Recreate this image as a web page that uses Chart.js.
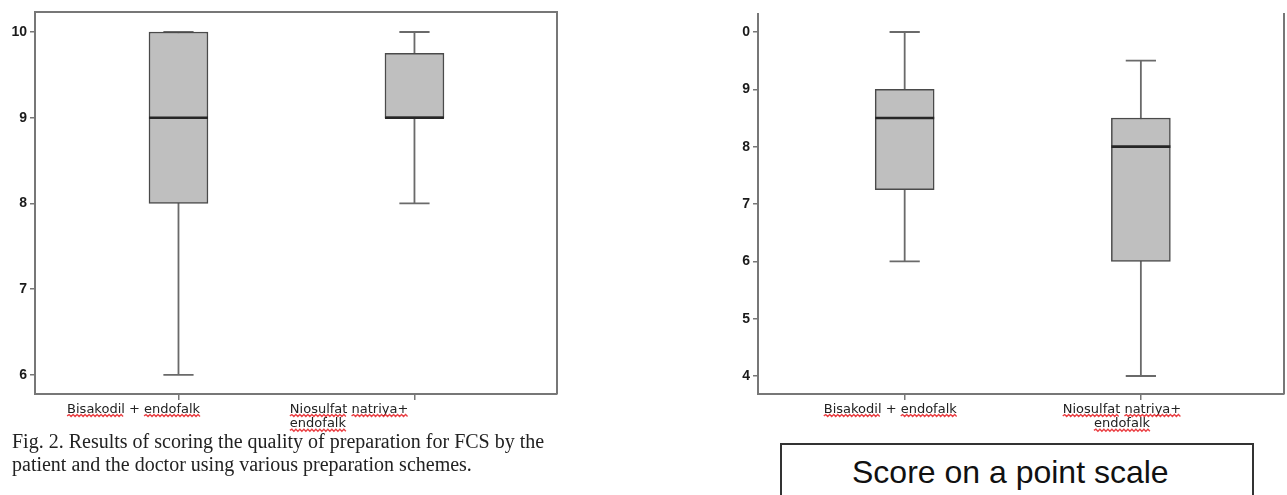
<!DOCTYPE html>
<html>
<head>
<meta charset="utf-8">
<script src="https://cdn.jsdelivr.net/npm/chart.js@4.4.1/dist/chart.umd.min.js"></script>
<style>
  html, body { margin: 0; padding: 0; background: #fff; }
  body { width: 1287px; height: 495px; position: relative; overflow: hidden; }
  canvas { position: absolute; top: 0; }
  #patient-chart { left: 0; }
  #doctor-chart { left: 700px; }
  #caption {
    position: absolute; left: 12px; top: 430px;
    font: 20px/23px "Liberation Serif", "Times New Roman", serif;
    color: #222; white-space: nowrap;
  }
  #scale-box {
    position: absolute; left: 780px; top: 443px; width: 474px; height: 90px;
    box-sizing: border-box; border: 2px solid #333;
    padding: 7px 0 0 70px;
    font: 32px/40px "Liberation Sans", Arial, sans-serif; color: #111; white-space: nowrap;
  }
</style>
</head>
<body>
<canvas id="patient-chart" width="560" height="440"></canvas>
<canvas id="doctor-chart" width="587" height="440"></canvas>
<div id="caption">Fig. 2. Results of scoring the quality of preparation for FCS by the<br>patient and the doctor using various preparation schemes.</div>
<div id="scale-box">Score on a point scale</div>
<script>
/*globals Chart*/
// groups on the x axis
const groupLabels = ['Bisakodil + endofalk', ['Niosulfat natriya+', 'endofalk']];
const groupPos = [1, 2];

// left panel: score given by the patient
const patientMin = [6, 8];
const patientQ1 = [8, 9];
const patientMedian = [9, 9];
const patientQ3 = [10, 9.75];
const patientMax = [10, 10];
const patientTicks = [6, 7, 8, 9, 10];
const patientTickLabels = ['6', '7', '8', '9', '10'];

// right panel: score given by the doctor
const doctorMin = [6, 4];
const doctorQ1 = [7.25, 6];
const doctorMedian = [8.5, 8];
const doctorQ3 = [9, 8.5];
const doctorMax = [10, 9.5];
const doctorTicks = [4, 5, 6, 7, 8, 9, 10];
const doctorTickLabels = ['4', '5', '6', '7', '8', '9', '0'];

const AXIS = '#777';
const BOX_FILL = '#bfbfbf';
const BOX_EDGE = '#4a4a4a';
const WHISKER = '#6a6a6a';
const MEDIAN = '#262626';
const BOX_HALF = 0.125;   // half box width, category units
const CAP_HALF = 0.064;
const LABEL_FONT = { family: 'DejaVu Sans', size: 13, lineHeight: 1.12 };
const LABEL_PAD = 3;

function hSegments(values, half) {
    let pts = [];
    groupPos.forEach(function (x, i) {
        pts.push({x: x - half, y: values[i]}, {x: x + half, y: values[i]}, {x: x, y: null});
    });
    return pts;
}

function whiskerPoints(lo, hi) {
    let pts = [];
    groupPos.forEach(function (x, i) {
        pts.push({x: x, y: lo[i]}, {x: x, y: hi[i]}, {x: x, y: null});
    });
    return pts;
}

function lineSet(data, color, width, order) {
    return {type: 'line', data: data, borderColor: color, borderWidth: width,
            pointRadius: 0, spanGaps: false, fill: false, order: order};
}

function boxDatasets(lo, q1, med, q3, hi) {
    return [
        lineSet(whiskerPoints(lo, hi), WHISKER, 1.8, 3),
        lineSet(hSegments(lo, CAP_HALF).concat(hSegments(hi, CAP_HALF)), WHISKER, 1.8, 3),
        {type: 'bar',
         data: groupPos.map(function (x, i) { return {x: x, y: [q1[i], q3[i]]}; }),
         backgroundColor: BOX_FILL, borderColor: BOX_EDGE, borderWidth: 1.5,
         borderSkipped: false, barThickness: 59, grouped: false, order: 2},
        lineSet(hSegments(med, BOX_HALF), MEDIAN, 2.6, 1)
    ];
}

// top / right edges of the plot frame
const frameSides = {
    id: 'frameSides',
    afterDatasetsDraw: function (chart, args, opts) {
        const ctx = chart.ctx, a = chart.chartArea;
        ctx.save();
        ctx.strokeStyle = AXIS;
        ctx.lineWidth = 2;
        ctx.beginPath();
        if (opts.top) { ctx.moveTo(a.left - 1, a.top); ctx.lineTo(a.right + 1, a.top); }
        if (opts.right) { ctx.moveTo(a.right, a.top - 1); ctx.lineTo(a.right, a.bottom); }
        ctx.stroke();
        ctx.restore();
    }
};

// red spell-check squiggles under the group names
const spellMarks = {
    id: 'spellMarks',
    afterDraw: function (chart, args, opts) {
        const scale = chart.scales.xl, ctx = chart.ctx;
        const lh = LABEL_FONT.size * LABEL_FONT.lineHeight;
        ctx.save();
        ctx.font = LABEL_FONT.size + 'px "' + LABEL_FONT.family + '"';
        ctx.strokeStyle = 'rgba(230, 30, 35, 0.85)';
        ctx.lineWidth = 1.4;
        scale.ticks.forEach(function (tick, i) {
            const lines = [].concat(groupLabels[i]);
            const px0 = scale.getPixelForValue(tick.value);
            lines.forEach(function (line, j) {
                const y = scale.top + LABEL_PAD + lh * (j + 0.5) + LABEL_FONT.size * 0.5;
                let x = opts.align === 'start' ? px0 : px0 - ctx.measureText(line).width / 2;
                line.split(' ').forEach(function (word) {
                    const w = ctx.measureText(word).width;
                    if (word !== '+') {
                        ctx.beginPath();
                        ctx.moveTo(x, y);
                        let up = true;
                        for (let px = x + 2; px <= x + w; px += 2) {
                            ctx.lineTo(px, up ? y - 1.2 : y + 0.8);
                            up = !up;
                        }
                        ctx.stroke();
                    }
                    x += w + ctx.measureText(' ').width;
                });
            });
        });
        ctx.restore();
    }
};

function makeChart(id, p) {
    const ctx = document.getElementById(id).getContext('2d');
    return new Chart(ctx, {
        type: 'bar',
        data: { datasets: boxDatasets(p.lo, p.q1, p.med, p.q3, p.hi) },
        plugins: [frameSides, spellMarks],
        options: {
            responsive: false,
            animation: false,
            events: [],
            layout: { padding: { top: p.top, right: p.right, left: 0, bottom: 0 } },
            plugins: {
                legend: { display: false },
                tooltip: { enabled: false },
                frameSides: { top: p.frameTop, right: true },
                spellMarks: { align: p.labelAlign }
            },
            scales: {
                x: {
                    type: 'linear', min: p.xMin, max: p.xMax, offset: false, weight: 0,
                    afterBuildTicks: function (axis) { axis.ticks = groupPos.map(function (v) { return {value: v}; }); },
                    afterFit: function (axis) { axis.height = 5; },
                    ticks: { display: false },
                    grid: { display: true, offset: false, drawOnChartArea: false, drawTicks: true,
                            tickLength: 6, color: AXIS, lineWidth: 1.5 },
                    border: { display: true, color: AXIS, width: 2 }
                },
                xl: {
                    type: 'linear', position: 'bottom', min: p.xMin, max: p.xMax, offset: false, weight: 1,
                    afterBuildTicks: function (axis) {
                        axis.ticks = groupPos.map(function (v, i) { return {value: v + p.labelShift[i]}; });
                    },
                    afterFit: function (axis) { axis.height = 41; },
                    ticks: {
                        autoSkip: false, maxRotation: 0, padding: LABEL_PAD, color: '#222',
                        font: LABEL_FONT, align: p.labelAlign,
                        callback: function (value, index) { return groupLabels[index]; }
                    },
                    grid: { display: false, drawTicks: false, offset: false },
                    border: { display: false }
                },
                y: {
                    type: 'linear', min: p.yMin, max: p.yMax,
                    afterBuildTicks: function (axis) { axis.ticks = p.ticks.map(function (v) { return {value: v}; }); },
                    afterFit: function (axis) { axis.width = p.yWidth; },
                    ticks: {
                        padding: 3, color: '#1a1a1a',
                        font: { family: 'Liberation Sans', size: 14, weight: 'bold' },
                        callback: function (value, index) { return p.tickLabels[index]; }
                    },
                    grid: { display: true, drawOnChartArea: false, drawTicks: true, tickLength: 5,
                            color: AXIS, lineWidth: 1.5 },
                    border: { display: true, color: AXIS, width: 2 }
                }
            }
        }
    });
}

makeChart('patient-chart', {
    lo: patientMin, q1: patientQ1, med: patientMedian, q3: patientQ3, hi: patientMax,
    ticks: patientTicks, tickLabels: patientTickLabels,
    yMin: 5.778, yMax: 10.233, xMin: 0.392, xMax: 2.604,
    top: 12, right: 3, yWidth: 35, frameTop: true,
    labelAlign: 'start', labelShift: [-0.472, -0.528]
});

makeChart('doctor-chart', {
    lo: doctorMin, q1: doctorQ1, med: doctorMedian, q3: doctorQ3, hi: doctorMax,
    ticks: doctorTicks, tickLabels: doctorTickLabels,
    yMin: 3.686, yMax: 10.314, xMin: 0.379, xMax: 2.606,
    top: 14, right: 3, yWidth: 58, frameTop: false,
    labelAlign: 'center', labelShift: [-0.061, -0.08]
});
</script>
</body>
</html>
